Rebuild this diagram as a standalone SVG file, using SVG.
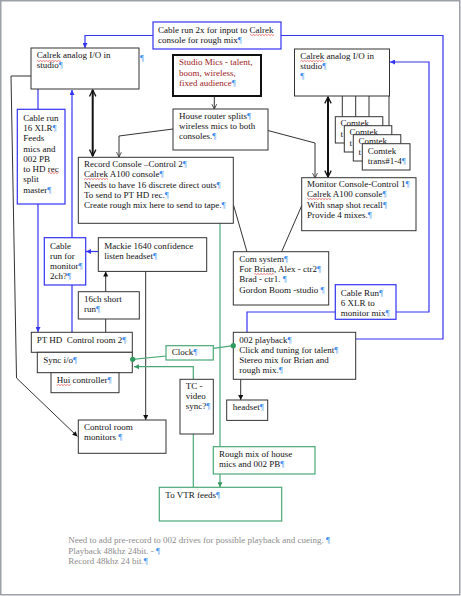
<svg xmlns="http://www.w3.org/2000/svg" width="461" height="596" viewBox="0 0 461 596">
<style>
.t{font-family:"Liberation Serif","Times New Roman",serif;font-size:9px;fill:#111}
.p{fill:#3d8ef0}
.red{fill:#9c1a1a}
.note{fill:#8c8c8c}
.box{fill:#fff;stroke:#333;stroke-width:1}
.thick{fill:#fff;stroke:#111;stroke-width:2}
.bbox{fill:#fff;stroke:#3333f0;stroke-width:1.2}
.gbox{fill:#fff;stroke:#4aa877;stroke-width:1.2}
.k{fill:none;stroke:#333;stroke-width:1}
.kk{fill:none;stroke:#111;stroke-width:2}
.b{fill:none;stroke:#3333f0;stroke-width:1.2}
.g{fill:none;stroke:#4aa877;stroke-width:1.2}
</style>
<defs>
<marker id="ah" viewBox="0 0 8 8" refX="8" refY="4" markerWidth="5" markerHeight="5" orient="auto" markerUnits="userSpaceOnUse"><path d="M0,0 L8,4 L0,8 z" fill="#111"/></marker>
<marker id="ahb" viewBox="0 0 8 8" refX="8" refY="4" markerWidth="5" markerHeight="5" orient="auto" markerUnits="userSpaceOnUse"><path d="M0,0 L8,4 L0,8 z" fill="#3333f0"/></marker>
<marker id="ahg" viewBox="0 0 8 8" refX="8" refY="4" markerWidth="5" markerHeight="5" orient="auto" markerUnits="userSpaceOnUse"><path d="M0,0 L8,4 L0,8 z" fill="#3a9a66"/></marker>
<marker id="av" viewBox="0 0 10 10" refX="9" refY="5" markerWidth="8" markerHeight="8" orient="auto-start-reverse" markerUnits="userSpaceOnUse"><path d="M1,1 L9,5 L1,9" fill="none" stroke="#111" stroke-width="1.6"/></marker>
<marker id="avs" viewBox="0 0 10 10" refX="9" refY="5" markerWidth="6" markerHeight="6" orient="auto" markerUnits="userSpaceOnUse"><path d="M1,1 L9,5 L1,9" fill="none" stroke="#333" stroke-width="1.4"/></marker>
<pattern id="sq" width="3" height="2" patternUnits="userSpaceOnUse"><path d="M0,1.6 L1.5,0.4 L3,1.6" stroke="#e02020" stroke-width="0.6" fill="none"/></pattern>
</defs>

<rect x="0.75" y="0.75" width="459" height="594" fill="#fff" stroke="#9ca0a8" stroke-width="1.5"/>

<g id="connectors">
  <!-- blue -->
  <polyline class="b" points="153,35.5 85,35.5 85,48" marker-end="url(#ahb)"/>
  <polyline class="b" points="356,339 443,339 443,35.5 281,35.5"/>
  <polyline class="b" points="247,332 247,312 429,312 429,62 390,62" marker-end="url(#ahb)"/>
  <line class="b" x1="38" y1="89" x2="38" y2="109"/>
  <line class="b" x1="38" y1="204" x2="38" y2="332" marker-end="url(#ahb)"/>
  <line class="b" x1="72" y1="332" x2="72" y2="285"/>
  <line class="b" x1="72" y1="238" x2="72" y2="90" marker-end="url(#ahb)"/>
  <line class="b" x1="98" y1="251.5" x2="86" y2="251.5" marker-end="url(#ahb)"/>
  <!-- black -->
  <line class="kk" x1="92.7" y1="90" x2="92.7" y2="156" marker-start="url(#av)" marker-end="url(#av)"/>
  <line class="kk" x1="328" y1="97" x2="328" y2="177" marker-start="url(#av)" marker-end="url(#av)"/>
  <line class="k" x1="214.3" y1="96" x2="214.3" y2="109" marker-end="url(#avs)"/>
  <polyline class="k" points="173,129 119,136 119,157" marker-end="url(#avs)"/>
  <polyline class="k" points="268,130.5 315,143 315,178" marker-end="url(#avs)"/>
  <line class="k" x1="342.3" y1="96" x2="342.3" y2="117"/>
  <line class="k" x1="355.7" y1="96" x2="355.7" y2="126"/>
  <line class="k" x1="369" y1="96" x2="369" y2="135"/>
  <line class="k" x1="389" y1="96" x2="389" y2="144"/>
  <line class="k" x1="233.5" y1="205" x2="247" y2="252"/>
  <line class="k" x1="302" y1="205" x2="281.5" y2="252"/>
  <line class="k" x1="105.7" y1="332" x2="105.7" y2="319"/>
  <line class="k" x1="105.7" y1="292" x2="105.7" y2="271.5" marker-end="url(#ah)"/>
  <line class="k" x1="145.7" y1="271" x2="145.7" y2="420" marker-end="url(#ah)"/>
  <polyline class="k" points="31,76 11,76 16.5,378 77.5,436.5" marker-end="url(#ah)"/>
  <line class="k" x1="240.7" y1="379" x2="240.7" y2="400" marker-end="url(#ah)"/>
  <!-- green -->
  <line class="g" x1="132.7" y1="359.3" x2="166" y2="356"/>
  <line class="g" x1="213.3" y1="348.3" x2="233.3" y2="345.7"/>
  <polyline class="g" points="193.3,379.3 193.3,366.7 134,366.7" marker-end="url(#ahg)"/>
  <line class="g" x1="193.3" y1="434" x2="193.3" y2="487.3"/>
  <line class="g" x1="220" y1="223" x2="220" y2="446.7"/>
  <line class="g" x1="220" y1="474" x2="220" y2="487.3" marker-end="url(#ahg)"/>
</g>

<g id="cable-run-2x">
  <rect class="bbox" x="153" y="22" width="128" height="27"/>
  <text class="t"><tspan x="158" y="33">Cable run 2x for input to Calrek </tspan><tspan x="158" y="43">console for rough mix<tspan class="p">¶</tspan></tspan></text>
  <rect x="250" y="34" width="24" height="2" fill="url(#sq)"/>
</g>

<g id="calrek-left">
  <rect class="box" x="31" y="48" width="108" height="41"/>
  <text class="t"><tspan x="36.7" y="58">Calrek analog I/O in </tspan><tspan x="36.7" y="68">studio<tspan class="p">¶</tspan></tspan></text>
  <text class="t p" x="140" y="61">¶</text>
  <rect x="36.7" y="60" width="24" height="2" fill="url(#sq)"/>
</g>

<g id="studio-mics">
  <rect class="thick" x="173" y="55" width="88" height="41"/>
  <text class="t red"><tspan x="179" y="65">Studio Mics - talent, </tspan><tspan x="179" y="75.5">boom, wireless, </tspan><tspan x="179" y="86">fixed audience<tspan class="p">¶</tspan></tspan></text>
</g>

<g id="calrek-right">
  <rect class="box" x="294.5" y="49" width="95" height="47"/>
  <text class="t"><tspan x="300.3" y="59.3">Calrek analog I/O in </tspan><tspan x="300.3" y="69.3">studio<tspan class="p">¶</tspan></tspan><tspan class="p" x="300.3" y="79.3">¶</tspan></text>
  <rect x="300.3" y="60" width="24" height="2" fill="url(#sq)"/>
</g>

<g id="house-router">
  <rect class="box" x="173" y="109" width="95" height="41"/>
  <text class="t"><tspan x="179" y="119.3">House router splits<tspan class="p">¶</tspan></tspan><tspan x="179" y="129.3">wireless mics to both </tspan><tspan x="179" y="139.3">consoles.<tspan class="p">¶</tspan></tspan></text>
</g>

<g id="comtek-1">
  <rect class="box" x="335.3" y="116.7" width="47.5" height="26.3"/>
  <text class="t"><tspan x="340.5" y="126.2">Comtek </tspan><tspan x="340.5" y="137.3">t</tspan></text>
</g>
<g id="comtek-2">
  <rect class="box" x="344.3" y="125.7" width="47.5" height="26.3"/>
  <text class="t"><tspan x="349.5" y="135.2">Comtek </tspan><tspan x="349.5" y="146.3">t</tspan></text>
</g>
<g id="comtek-3">
  <rect class="box" x="353.3" y="134.7" width="47.5" height="26.3"/>
  <text class="t"><tspan x="358.5" y="144.2">Comtek </tspan><tspan x="358.5" y="155.3">t</tspan></text>
</g>
<g id="comtek-4">
  <rect class="box" x="362.3" y="143.7" width="47.7" height="26.3"/>
  <text class="t"><tspan x="367.7" y="154">Comtek </tspan><tspan x="367.7" y="164.3">trans#1-4<tspan class="p">¶</tspan></tspan></text>
</g>

<g id="cable-run-16xlr">
  <rect class="bbox" x="17.3" y="109.3" width="47.7" height="94.7"/>
  <text class="t"><tspan x="23.3" y="121">Cable run </tspan><tspan x="23.3" y="131">16 XLR<tspan class="p">¶</tspan></tspan><tspan x="23.3" y="141.3">Feeds </tspan><tspan x="23.3" y="151.5">mics and </tspan><tspan x="23.3" y="161.8">002 PB </tspan><tspan x="23.3" y="172">to HD rec </tspan><tspan x="23.3" y="182.3">split </tspan><tspan x="23.3" y="192.6">master<tspan class="p">¶</tspan></tspan></text>
  <rect x="48.3" y="172" width="10.5" height="2" fill="url(#sq)"/>
</g>

<g id="record-console">
  <rect class="box" x="78.3" y="157.3" width="155" height="66"/>
  <text class="t"><tspan x="84" y="166.7">Record Console –Control 2<tspan class="p">¶</tspan></tspan><tspan x="84" y="177.1">Calrek A100 console<tspan class="p">¶</tspan></tspan><tspan x="84" y="187.5">Needs to have 16 discrete direct outs<tspan class="p">¶</tspan></tspan><tspan x="84" y="197.9">To send to PT HD rec.<tspan class="p">¶</tspan></tspan><tspan x="84" y="208.3">Create rough mix here to send to tape.<tspan class="p">¶</tspan></tspan></text>
  <rect x="84" y="178" width="24" height="2" fill="url(#sq)"/>
</g>

<g id="monitor-console">
  <rect class="box" x="301.7" y="177.7" width="114.3" height="53"/>
  <text class="t"><tspan x="307" y="186.5">Monitor Console-Control 1<tspan class="p">¶</tspan></tspan><tspan x="307" y="197.1">Calrek A100 console<tspan class="p">¶</tspan></tspan><tspan x="307" y="207.7">With snap shot recall<tspan class="p">¶</tspan></tspan><tspan x="307" y="218.3">Provide 4 mixes.<tspan class="p">¶</tspan></tspan></text>
  <rect x="307" y="198" width="24" height="2" fill="url(#sq)"/>
</g>

<g id="cable-run-monitor">
  <rect class="bbox" x="44.3" y="237.7" width="41.4" height="47.3"/>
  <text class="t"><tspan x="50" y="249">Cable </tspan><tspan x="50" y="259.3">run for </tspan><tspan x="50" y="269.3">monitor<tspan class="p">¶</tspan></tspan><tspan x="50" y="279.3">2ch?<tspan class="p">¶</tspan></tspan></text>
</g>

<g id="mackie">
  <rect class="box" x="98.3" y="237.7" width="108.4" height="33.7"/>
  <text class="t"><tspan x="104.3" y="249">Mackie 1640 confidence </tspan><tspan x="104.3" y="259.3">listen headset<tspan class="p">¶</tspan></tspan></text>
</g>

<g id="com-system">
  <rect class="box" x="233.3" y="251.7" width="95.4" height="53.3"/>
  <text class="t"><tspan x="239.3" y="261.7">Com system<tspan class="p">¶</tspan></tspan><tspan x="239.3" y="272">For Brian, Alex - ctr2<tspan class="p">¶</tspan></tspan><tspan x="239.3" y="282.3">Brad - ctr1. <tspan class="p">¶</tspan></tspan><tspan x="239.3" y="292.5">Gordon Boom -studio <tspan class="p">¶</tspan></tspan></text>
  <rect x="254.3" y="273" width="19.5" height="2" fill="url(#sq)"/>
</g>

<g id="cable-run-6xlr">
  <rect class="bbox" x="335.3" y="284.7" width="60.7" height="34.6"/>
  <text class="t"><tspan x="340.7" y="295.7">Cable Run<tspan class="p">¶</tspan></tspan><tspan x="340.7" y="306">6 XLR to </tspan><tspan x="340.7" y="316">monitor mix<tspan class="p">¶</tspan></tspan></text>
</g>

<g id="short-run">
  <rect class="box" x="78.3" y="291.7" width="61" height="27.3"/>
  <text class="t"><tspan x="84" y="302.3">16ch short </tspan><tspan x="84" y="312.3">run<tspan class="p">¶</tspan></tspan></text>
</g>

<g id="pt-hd">
  <rect class="box" x="31.3" y="332.3" width="101" height="20"/>
  <text class="t" x="36.7" y="342.7" xml:space="preserve">PT HD  Control room 2<tspan class="p">¶</tspan></text>
</g>
<g id="sync-io">
  <rect class="box" x="37.3" y="352.3" width="95" height="20.4"/>
  <text class="t" x="43.3" y="363.3">Sync i/o<tspan class="p">¶</tspan></text>
</g>
<g id="hui">
  <rect class="box" x="51" y="372.7" width="68" height="20"/>
  <text class="t" x="56.7" y="382.7">Hui controller<tspan class="p">¶</tspan></text>
  <rect x="56.7" y="384" width="14.3" height="2" fill="url(#sq)"/>
</g>

<g id="clock">
  <rect class="gbox" x="166" y="345.7" width="47.3" height="14.3"/>
  <text class="t" x="171.7" y="355">Clock<tspan class="p">¶</tspan></text>
</g>

<g id="playback-002">
  <rect class="box" x="233.3" y="332.3" width="122.4" height="47"/>
  <text class="t"><tspan x="239.3" y="342.7">002 playback<tspan class="p">¶</tspan></tspan><tspan x="239.3" y="352.9">Click and tuning for talent<tspan class="p">¶</tspan></tspan><tspan x="239.3" y="363.2">Stereo mix for Brian and </tspan><tspan x="239.3" y="373.4">rough mix.<tspan class="p">¶</tspan></tspan></text>
</g>

<g id="dots">
  <circle cx="132.7" cy="359.3" r="2.6" fill="#2e9a5e"/>
  <circle cx="233.3" cy="345.7" r="2.6" fill="#2e9a5e"/>
</g>

<g id="headset">
  <rect class="box" x="226.7" y="400" width="41" height="20.4"/>
  <text class="t" x="232.7" y="409.8">headset<tspan class="p">¶</tspan></text>
</g>

<g id="tc-video-sync">
  <rect class="box" x="180" y="379.3" width="33.3" height="54.7"/>
  <text class="t"><tspan x="185.7" y="389">TC - </tspan><tspan x="185.7" y="399.2">video </tspan><tspan x="185.7" y="409.4">sync?<tspan class="p">¶</tspan></tspan></text>
</g>

<g id="control-room-monitors">
  <rect class="box" x="78.3" y="420" width="87.7" height="33.3"/>
  <text class="t"><tspan x="84" y="429.7">Control room </tspan><tspan x="84" y="440">monitors <tspan class="p">¶</tspan></tspan></text>
</g>

<g id="rough-mix">
  <rect class="gbox" x="213.3" y="446.7" width="101.7" height="27.3"/>
  <text class="t"><tspan x="219" y="457.3">Rough mix of house </tspan><tspan x="219" y="467">mics and 002 PB<tspan class="p">¶</tspan></tspan></text>
</g>

<g id="vtr-feeds">
  <rect class="gbox" x="159.3" y="487.3" width="122.4" height="33.7"/>
  <text class="t" x="165.3" y="497.7">To VTR feeds<tspan class="p">¶</tspan></text>
</g>

<g id="notes">
  <text class="t note"><tspan x="68.3" y="543.3">Need to add pre-record to 002 drives for possible playback and cueing. <tspan class="p">¶</tspan></tspan><tspan x="68.3" y="553.8">Playback 48khz 24bit. - <tspan class="p">¶</tspan></tspan><tspan x="68.3" y="564.3">Record 48khz 24 bit.<tspan class="p">¶</tspan></tspan></text>
</g>
</svg>
